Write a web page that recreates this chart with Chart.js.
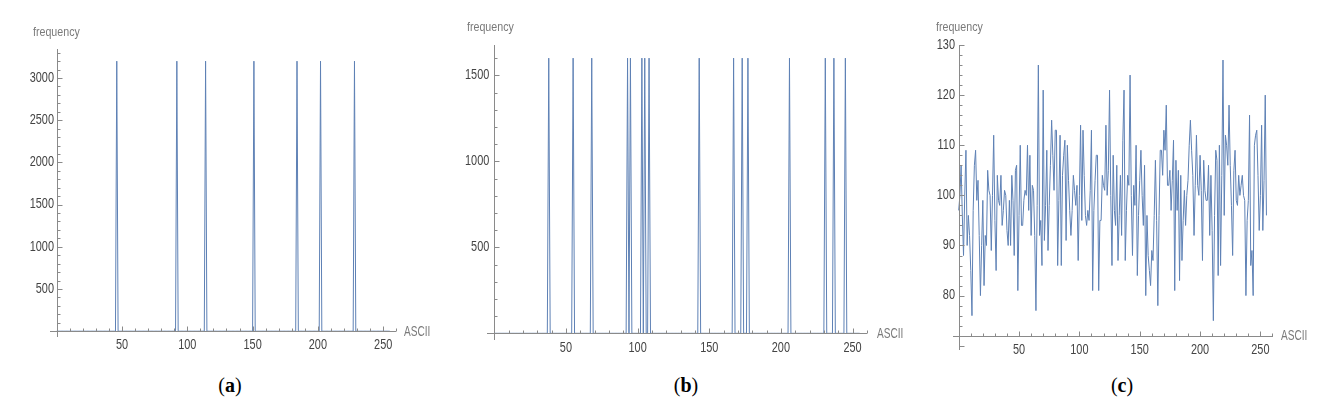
<!DOCTYPE html>
<html>
<head>
<meta charset="utf-8">
<script src="https://cdn.jsdelivr.net/npm/chart.js@4.4.1/dist/chart.umd.min.js"></script>
<style>
  html, body { margin: 0; padding: 0; background: #fff; }
  body { width: 1334px; height: 413px; position: relative; overflow: hidden; }
  canvas { position: absolute; top: 0; }
  .lbl { position: absolute; color: #7a7a7a; line-height: 1; white-space: nowrap; font-family: 'Liberation Sans', Arial, sans-serif; transform-origin: 0 50%; }
  .freq { font-size: 13px; transform: translateY(-50%) scaleX(0.82); }
  .ascii { font-size: 14px; transform: translateY(-50%) scaleX(0.72); }
  .cap { position: absolute; top: 385px; transform: translate(-50%, -50%); font-family: 'Liberation Serif', 'DejaVu Serif', serif; font-size: 20px; color: #000; line-height: 1; }
</style>
</head>
<body>
<canvas id="ca" width="440" height="370" style="left:0px"></canvas>
<canvas id="cb" width="450" height="370" style="left:440px"></canvas>
<canvas id="cc" width="444" height="370" style="left:890px"></canvas>

<div class="lbl freq" style="left:33px; top:31px">frequency</div>
<div class="lbl freq" style="left:467px; top:26px">frequency</div>
<div class="lbl freq" style="left:936px; top:26px">frequency</div>
<div class="lbl ascii" style="left:404px; top:331px">ASCII</div>
<div class="lbl ascii" style="left:877px; top:333px">ASCII</div>
<div class="lbl ascii" style="left:1281px; top:335px">ASCII</div>
<div class="cap" style="left:230px">(<b>a</b>)</div>
<div class="cap" style="left:686px">(<b>b</b>)</div>
<div class="cap" style="left:1122px">(<b>c</b>)</div>

<script>
// ---------------- DATA ----------------
const asciiCodes = Array.from({length: 256}, (_, i) => i);

// (a) spikes
const spikesA = [46, 92, 114, 151, 184, 202, 228];
const heightA = 3200;

// (b) spikes
const spikesB = [38, 55, 68, 93, 95, 103, 105, 108, 143, 167, 173, 177, 206, 231, 237, 245];
const heightB = 1600;

// (c) frequencies for ASCII 0..255
const freqC = [
  97,100,106,96,88,100,109,90,96,92,85,76,97,106,109,99,103,92,80,90,
  99,82,92,90,105,101,100,89,100,112,95,85,104,99,98,104,94,97,101,100,
  93,90,99,90,104,99,88,105,106,81,96,110,94,94,99,101,100,110,97,108,
  92,102,101,92,77,98,126,92,95,86,121,91,98,109,89,98,106,115,108,101,
  113,113,86,99,112,86,104,108,111,91,110,103,97,92,97,104,101,98,102,87,
  100,114,95,113,104,96,94,97,95,101,113,81,97,103,108,108,81,95,95,104,
  102,101,114,100,105,121,100,86,108,97,94,106,87,96,104,92,111,121,87,97,
  104,102,124,100,88,102,98,110,84,96,103,109,100,94,106,80,96,88,85,82,
  89,87,96,107,95,78,96,109,109,104,113,109,118,102,102,105,97,103,111,81,
  107,97,105,83,104,87,95,101,94,100,103,110,115,109,104,92,102,112,102,100,
  108,101,87,107,101,99,99,106,92,104,93,75,96,109,107,84,110,86,104,127,
  96,112,110,106,118,106,98,88,105,109,99,98,104,100,102,104,100,99,80,95,
  99,116,86,89,80,110,112,113,104,93,100,114,93,103,120,96
];

// tick labels
const xTickLabels = [50, 100, 150, 200, 250];
const yTickLabelsA = [500, 1000, 1500, 2000, 2500, 3000];
const yTickLabelsB = [500, 1000, 1500];
const yTickLabelsC = [80, 90, 100, 110, 120, 130];

// ---------------- BUILD ----------------
function spikeSeries(positions, h) {
  return asciiCodes.map(n => ({x: n, y: positions.includes(n) ? h : 0}));
}
const seriesA = spikeSeries(spikesA, heightA);
const seriesB = spikeSeries(spikesB, heightB);
const seriesC = asciiCodes.map((n, i) => ({x: n, y: freqC[i]}));

const LINE = '#5E81B5';
const AXIS = '#8a8a8a';
const TICKFONT = {family: "'Liberation Sans', Arial, sans-serif", size: 14};

// narrow tick-label text (Mathematica's condensed look)
const condense = {
  id: 'condense',
  beforeDraw(chart) {
    const ctx = chart.ctx;
    if (ctx._condensed) return;
    const orig = ctx.fillText;
    ctx.fillText = function (t, x, y) {
      this.save(); this.translate(x, y); this.scale(0.78, 1); orig.call(this, t, 0, 0); this.restore();
    };
    ctx._condensed = true;
  }
};

const mmaAxes = {
  id: 'mmaAxes',
  afterDatasetsDraw(chart, args, o) {
    const ctx = chart.ctx, xs = chart.scales.x, ys = chart.scales.y;
    const r = v => Math.round(v) + 0.5;
    const x0 = r(xs.getPixelForValue(0));
    const y0 = r(ys.getPixelForValue(o.originY));
    ctx.save();
    ctx.strokeStyle = AXIS;
    ctx.lineWidth = 1;
    ctx.beginPath();
    ctx.moveTo(Math.round(xs.getPixelForValue(o.xLo)), y0); ctx.lineTo(Math.round(xs.getPixelForValue(xs.max)), y0);
    ctx.moveTo(x0, Math.round(ys.getPixelForValue(ys.max))); ctx.lineTo(x0, Math.round(ys.getPixelForValue(o.yLo)));
    ctx.stroke();
    ctx.beginPath();
    for (let v = o.xStep; v <= xs.max; v += o.xStep) {
      const p = r(xs.getPixelForValue(v));
      const len = (v % o.xMajor === 0) ? 5 : 3;
      ctx.moveTo(p, y0); ctx.lineTo(p, y0 - len);
    }
    const start = Math.ceil(o.yLo / o.yStep) * o.yStep;
    for (let v = start; v <= ys.max + 1e-9; v += o.yStep) {
      if (Math.abs(v - o.originY) < 1e-9) continue;
      const p = r(ys.getPixelForValue(v));
      const len = (Math.abs(v % o.yMajor) < 1e-9) ? 5 : 3;
      ctx.moveTo(x0, p); ctx.lineTo(x0 + len, p);
    }
    ctx.stroke();
    ctx.restore();
  }
};

function makeChart(id, data, cfg) {
  return new Chart(document.getElementById(id), {
    type: 'line',
    data: { datasets: [{ data: data, borderColor: LINE, borderWidth: 1, pointRadius: 0, tension: 0, fill: false, clip: false }] },
    options: {
      responsive: false,
      animation: false,
      layout: { padding: cfg.pad },
      plugins: { legend: { display: false }, tooltip: { enabled: false }, mmaAxes: cfg.axes },
      scales: {
        x: {
          type: 'linear', min: 0, max: 260.1,
          grid: { display: false, drawTicks: false }, border: { display: false },
          afterBuildTicks: s => { s.ticks = xTickLabels.map(v => ({value: v})); },
          afterFit: s => { s.height = 30; },
          ticks: { color: '#444', font: TICKFONT, padding: cfg.xpad, maxRotation: 0, autoSkip: false, callback: v => String(v) }
        },
        y: {
          type: 'linear', min: cfg.ymin, max: cfg.ymax,
          grid: { display: false, drawTicks: false }, border: { display: false },
          afterBuildTicks: s => { s.ticks = cfg.yTicks.map(v => ({value: v})); },
          afterFit: s => { s.width = cfg.yw; },
          ticks: { color: '#444', font: TICKFONT, padding: cfg.ypad, autoSkip: false, callback: v => String(v) }
        }
      }
    },
    plugins: [condense, mmaAxes]
  });
}

makeChart('ca', seriesA, {
  pad: {left: 0, right: 43.6, top: 49, bottom: 8.8}, yw: 56.7,
  ymin: 0, ymax: 3344, yTicks: yTickLabelsA, xpad: 5.4, ypad: 2.7,
  axes: {originY: 0, xLo: -5.1, yLo: -65, xStep: 10, xMajor: 50, yStep: 100, yMajor: 500}
});
makeChart('cb', seriesB, {
  pad: {left: 0, right: 23, top: 45.4, bottom: 6.7}, yw: 54.3,
  ymin: 0, ymax: 1674, yTicks: yTickLabelsB, xpad: 6.6, ypad: 5,
  axes: {originY: 0, xLo: -5.1, yLo: -40, xStep: 10, xMajor: 50, yStep: 100, yMajor: 500}
});
makeChart('cc', seriesC, {
  pad: {left: 0, right: 61.4, top: 45, bottom: 4.3}, yw: 68.7,
  ymin: 72, ymax: 130, yTicks: yTickLabelsC, xpad: 5.9, ypad: 3.7,
  axes: {originY: 72, xLo: -5.1, yLo: 69.2, xStep: 10, xMajor: 50, yStep: 2, yMajor: 10}
});
</script>
</body>
</html>
